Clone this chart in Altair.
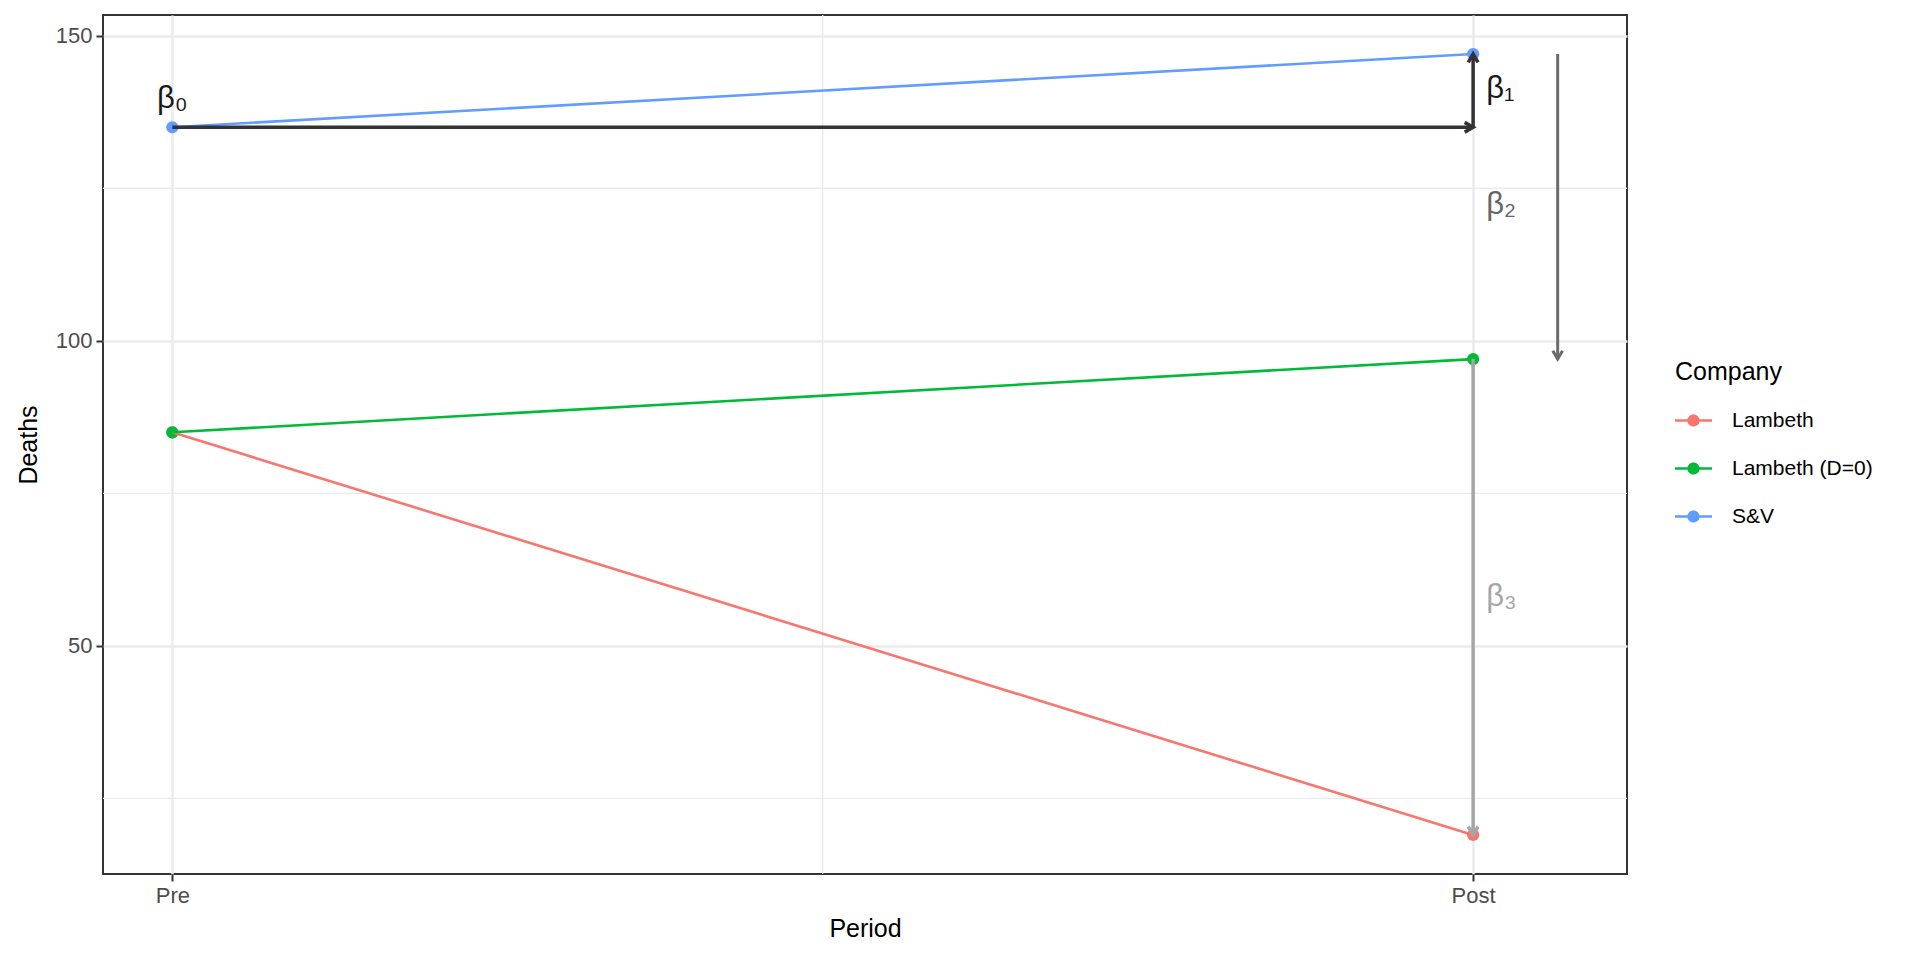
import altair as alt
import pandas as pd

# ---- data ----
period_values = [1, 2]
period_labels = ["Pre", "Post"]
companies = ["Lambeth", "Lambeth (D=0)", "S&V"]
lambeth_deaths = [85, 19]
lambeth_d0_deaths = [85, 97]
sv_deaths = [135, 147]

# annotation arrows (data coordinates): beta0, beta1, beta2, beta3
arrow_x = [1, 2, 2.065, 2]
arrow_y = [135, 135, 147, 97]
arrow_xend = [2, 2, 2.065, 2]
arrow_yend = [135, 147, 97, 19]

beta_labels = ["β₀", "β₁", "β₂", "β₃"]
beta_x = [1, 2.01, 2.01, 2.01]
beta_y = [139.6, 141.2, 122.2, 58.0]

y_tick_values = [50, 100, 150]
y_minor_grid = [25, 75, 125]
x_minor_grid = [1.5]

x_domain = [0.9467, 2.1183]
y_domain = [12.6, 153.4]

colors = ["#F8766D", "#00BA38", "#619CFF"]

# ---- tables ----
rows = []
for comp, vals in zip(companies, [lambeth_deaths, lambeth_d0_deaths, sv_deaths]):
    for p, v in zip(period_values, vals):
        rows.append({"x": p, "y": v, "Company": comp})
df = pd.DataFrame(rows)

FONT = "Liberation Sans"

label_expr = f"datum.value == {period_values[0]} ? '{period_labels[0]}' : '{period_labels[1]}'"
x_axis = alt.Axis(values=period_values, labelExpr=label_expr, title="Period")
y_axis = alt.Axis(values=y_tick_values, format="d", title="Deaths")
xs = alt.Scale(domain=x_domain, nice=False, zero=False)
ys = alt.Scale(domain=y_domain, nice=False, zero=False)

def X(field="x"):
    return alt.X(f"{field}:Q", scale=xs, axis=x_axis)

def Y(field="y"):
    return alt.Y(f"{field}:Q", scale=ys, axis=y_axis)

color_scale = alt.Scale(domain=companies, range=colors)

legend_symbol = ("M-1,-0.07L1,-0.07L1,0.07L-1,0.07Z"
                 "M0.33,0A0.33,0.33 0 1,1 -0.33,0A0.33,0.33 0 1,1 0.33,0Z")

legend = alt.Legend(
    title="Company", orient="none", legendX=1572, legendY=345,
    symbolType=legend_symbol, symbolSize=1369, symbolOpacity=1,
    symbolStrokeWidth=0, symbolFillColor="#888888",
    labelOffset=20, rowPadding=19, titlePadding=17, padding=0,
    labelFontSize=21, titleFontSize=25, labelFont=FONT, titleFont=FONT,
    titleFontWeight="normal", labelColor="#000000", titleColor="#000000",
)

grid_x = alt.Chart(pd.DataFrame({"x": x_minor_grid})).mark_rule(
    color="#EBEBEB", strokeWidth=1.3).encode(x=X())
grid_y = alt.Chart(pd.DataFrame({"y": y_minor_grid})).mark_rule(
    color="#EBEBEB", strokeWidth=1.3).encode(y=Y())

points = alt.Chart(df).mark_point(filled=True, size=150, opacity=1).encode(
    x=X(), y=Y(),
    color=alt.Color("Company:N", scale=color_scale, legend=legend),
)
lines = alt.Chart(df).mark_line(strokeWidth=2.6).encode(
    x=X(), y=Y(),
    color=alt.Color("Company:N", scale=color_scale, legend=legend),
)

arrows_df = pd.DataFrame({"x": arrow_x, "y": arrow_y, "xe": arrow_xend, "ye": arrow_yend})
arrow_styles = [("#333333", 3.5), ("#333333", 3.5), ("#6B6B6B", 3.0), ("#A6A6A6", 3.5)]
head_paths = {
    "right": "M-0.866,-0.5L0,0L-0.866,0.5",
    "up": "M-0.5,0.866L0,0L0.5,0.866",
    "down": "M-0.5,-0.866L0,0L0.5,-0.866",
}
head_dirs = ["right", "up", "down", "down"]

arrow_layers = []
for i, ((col, w), d) in enumerate(zip(arrow_styles, head_dirs)):
    one = arrows_df.iloc[[i]]
    seg = alt.Chart(one).mark_rule(color=col, strokeWidth=w).encode(
        x=X(), y=Y(), x2="xe:Q", y2="ye:Q")
    head = alt.Chart(one).mark_point(
        shape=head_paths[d], size=380, filled=False, stroke=col,
        strokeWidth=w, opacity=1, strokeJoin="miter").encode(x=X("xe"), y=Y("ye"))
    arrow_layers += [seg, head]

labels_df = pd.DataFrame({"x": beta_x, "y": beta_y, "label": beta_labels})
label_styles = [("#1A1A1A", "center"), ("#1A1A1A", "left"), ("#666666", "left"), ("#A6A6A6", "left")]
text_layers = []
for i, (col, al) in enumerate(label_styles):
    text_layers.append(
        alt.Chart(labels_df.iloc[[i]]).mark_text(
            font=FONT, fontSize=31, color=col, align=al, baseline="middle"
        ).encode(x=X(), y=Y(), text="label:N")
    )

chart = alt.layer(grid_x, grid_y, points, lines, *arrow_layers, *text_layers).properties(
    width=1524, height=859,
    padding={"left": 95, "top": 7, "right": 280, "bottom": 76},
    autosize=alt.AutoSizeParams(type="none"),
).configure_view(
    stroke="#333333", strokeWidth=2,
).configure_axis(
    labelFont=FONT, labelFontSize=22, labelColor="#4D4D4D", labelPadding=4,
    tickColor="#333333", tickSize=7, tickWidth=2,
    titleFont=FONT, titleFontSize=25, titleFontWeight="normal", titleColor="#000000",
    domain=False, gridColor="#EBEBEB", gridWidth=2.5,
).configure_axisX(titlePadding=10).configure_axisY(titlePadding=14)

chart.save("out.html", embed_options={"renderer": "svg", "actions": False})
